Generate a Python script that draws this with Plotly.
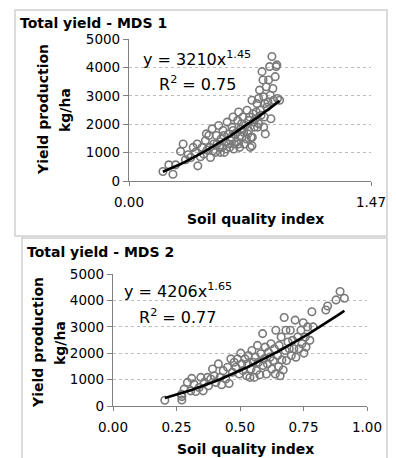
import numpy as np
import plotly.graph_objects as go

# ---------------- data ----------------
sqi_mds1 = [0.206,0.242,0.267,0.283,0.313,0.343,0.359,0.390,0.414,0.418,0.434,0.444,0.464,0.474,0.485,
            0.495,0.505,0.515,0.525,0.531,0.545,0.551,0.559,0.571,0.579,0.588,0.596,0.604,0.612,0.616,
            0.626,0.632,0.636,0.646,0.652,0.660,0.666,0.672,0.680,0.686,0.692,0.701,0.707,0.717,0.721,
            0.727,0.737,0.741,0.747,0.753,0.761,0.767,0.777,0.781,0.787,0.793,0.797,0.808,0.814,0.818,
            0.822,0.828,0.834,0.838,0.848,0.854,0.858,0.862,0.868,0.874,0.878,0.888,0.894,0.898,0.902,
            0.915,0.329,0.375,0.404,0.454,0.470,0.491,0.511,0.535,0.555,0.565,0.575,0.591,0.606,0.620,
            0.632,0.640,0.656,0.666,0.676,0.684,0.696,0.713,0.727,0.733,0.749,0.757,0.773,0.787,0.802,
            0.818,0.826,0.844,0.747]
yield_mds1 = [332,569,237,569,1043,747,924,1185,1304,533,853,1185,1422,1090,1600,
              830,1837,1304,1007,1600,1955,1185,1481,1778,1007,1363,2074,1659,1185,1422,
              1896,2252,1126,1659,1363,2133,2430,1185,1837,1541,2252,1304,1955,2489,1659,
              2133,1185,1541,2844,2370,1896,2192,2726,1896,2903,3200,2489,3851,3555,2963,
              2252,1659,3318,2607,3555,4029,3022,2192,4384,3259,2844,3674,4029,4088,2903,
              2844,1304,830,1007,948,1659,1185,1066,1304,1007,1185,1600,1126,1304,1541,
              1778,1304,1718,1304,1600,2015,1718,1481,1778,2252,1541,2074,2430,2015,2311,
              1896,2726,2785,1244]

sqi_mds2 = [0.204,0.271,0.271,0.270,0.280,0.310,0.319,0.326,0.339,0.355,0.359,0.372,0.385,0.398,0.415,
            0.421,0.428,0.434,0.444,0.451,0.457,0.464,0.470,0.477,0.484,0.490,0.497,0.503,0.507,0.512,
            0.520,0.526,0.530,0.533,0.539,0.543,0.547,0.552,0.556,0.560,0.565,0.569,0.573,0.578,0.582,
            0.589,0.591,0.595,0.599,0.604,0.608,0.612,0.618,0.622,0.625,0.631,0.635,0.639,0.641,0.648,
            0.652,0.654,0.658,0.662,0.665,0.670,0.674,0.678,0.681,0.683,0.689,0.694,0.698,0.702,0.707,
            0.712,0.717,0.720,0.727,0.733,0.740,0.744,0.749,0.752,0.757,0.760,0.766,0.775,0.783,0.788,
            0.838,0.845,0.878,0.894,0.911,0.293,0.306,0.346,0.376,0.405,0.392]
yield_mds2 = [217,357,230,446,638,1046,829,548,701,574,893,1084,1020,1148,1594,
              1084,804,1339,1020,1467,855,1786,1276,1658,1467,1786,1212,2003,1594,1339,
              1786,1148,1594,1913,1084,1403,2105,1658,1084,1850,1339,2296,1658,1186,1977,
              2742,1531,1786,2232,1212,1594,2041,1850,2360,1403,1722,2168,1212,2870,1913,
              1492,2296,1148,2615,1747,1365,3355,2105,2870,1722,2423,2168,2870,1913,2487,
              2168,3253,1850,2615,2168,2870,2360,3151,2003,2615,2232,2997,2487,3571,2997,
              3635,3788,4018,4337,4082,893,574,1084,765,893,1403]

# fitted power trendlines shown on the chart: y = a * x^b
fit1_a, fit1_b = 3210, 1.45
fit2_a, fit2_b = 4206, 1.65
fit1_range = [0.206, 0.915]
fit2_range = [0.204, 0.911]

y_ticks = [0, 1000, 2000, 3000, 4000, 5000]
x1_ticks = [0, 1.47]
x1_ticktext = ["0.00", "1.47"]
x2_ticks = [0, 0.25, 0.5, 0.75, 1.0]
x2_ticktext = ["0.00", "0.25", "0.50", "0.75", "1.00"]

W, H = 396, 458
OFF = 8  # page body margin
FONT = "DejaVu Sans, Verdana, sans-serif"

def px(x):
    return (x - OFF) / W

def py(y):
    return 1 - (y - OFF) / H

fig = go.Figure()
marker = dict(symbol="circle-open", size=7.5, color="#7a7a7a", line=dict(width=1.6, color="#7a7a7a"))

fig.add_trace(go.Scatter(x=sqi_mds1, y=yield_mds1, mode="markers", marker=marker,
                         xaxis="x", yaxis="y", showlegend=False))
xf1 = np.linspace(fit1_range[0], fit1_range[1], 60)
fig.add_trace(go.Scatter(x=xf1, y=fit1_a * xf1 ** fit1_b, mode="lines",
                         line=dict(color="black", width=2.6), xaxis="x", yaxis="y", showlegend=False))

fig.add_trace(go.Scatter(x=sqi_mds2, y=yield_mds2, mode="markers", marker=marker,
                         xaxis="x2", yaxis="y2", showlegend=False))
xf2 = np.linspace(fit2_range[0], fit2_range[1], 60)
fig.add_trace(go.Scatter(x=xf2, y=fit2_a * xf2 ** fit2_b, mode="lines",
                         line=dict(color="black", width=2.6), xaxis="x2", yaxis="y2", showlegend=False))

tickfont = dict(family=FONT, size=13.5, color="black")
common_y = dict(range=[0, 5000], tickvals=y_ticks, showgrid=True, gridcolor="#bcbcbc",
                griddash="dot", gridwidth=1, showline=True, linecolor="#808080", linewidth=1.2,
                ticks="outside", ticklen=5, tickcolor="#808080", tickfont=tickfont,
                zeroline=False, fixedrange=True, automargin=False)
common_x = dict(showgrid=False, showline=True, linecolor="#808080", linewidth=1.2,
                ticks="outside", ticklen=4, tickcolor="#808080", tickfont=tickfont,
                zeroline=False, fixedrange=True, automargin=False)

fig.update_layout(
    width=W, height=H, margin=dict(l=0, r=0, t=0, b=0),
    paper_bgcolor="white", plot_bgcolor="white",
    font=dict(family=FONT, color="black"),
    xaxis=dict(domain=[px(129), px(371)], range=[0, 1.47], tickvals=x1_ticks, ticktext=x1_ticktext,
               anchor="y", ticklabelstandoff=5, **common_x),
    yaxis=dict(domain=[py(181), py(39)], anchor="x", **common_y),
    xaxis2=dict(domain=[px(113), px(367)], range=[0, 1.0], tickvals=x2_ticks, ticktext=x2_ticktext,
                anchor="y2", ticklabelstandoff=5, **common_x),
    yaxis2=dict(domain=[py(406), py(274)], anchor="x2", **common_y),
)

# panel borders
fig.add_shape(type="rect", xref="paper", yref="paper", x0=px(15), x1=px(387), y0=py(236), y1=py(10),
              line=dict(color="#cfcfcf", width=1.5))
fig.add_shape(type="rect", xref="paper", yref="paper", x0=px(22), x1=px(387), y0=py(480), y1=py(238),
              line=dict(color="#cfcfcf", width=1.5))

def ann(text, x, y, size, bold=False, angle=0, xanchor="left"):
    t = f"<b>{text}</b>" if bold else text
    fig.add_annotation(text=t, x=px(x), y=py(y), xref="paper", yref="paper", showarrow=False,
                       xanchor=xanchor, yanchor="middle", textangle=angle,
                       font=dict(family=FONT, size=size, color="black"))

# titles
ann("Total yield - MDS 1", 18, 23.5, 14, bold=True)
ann("Total yield - MDS 2", 25, 252, 14, bold=True)
# x axis titles
ann("Soil quality index", 255, 219, 14, bold=True, xanchor="center")
ann("Soil quality index", 245, 449, 14, bold=True, xanchor="center")
# y axis titles (two lines)
ann("Yield production", 43, 110, 14, bold=True, angle=-90, xanchor="center")
ann("kg/ha", 65, 110, 14, bold=True, angle=-90, xanchor="center")
ann("Yield production", 38, 343, 14, bold=True, angle=-90, xanchor="center")
ann("kg/ha", 60, 343, 14, bold=True, angle=-90, xanchor="center")
# equations
ann(f"y = {fit1_a}x<sup>{fit1_b:.2f}</sup>", 141, 59, 16)
ann("R<sup>2</sup> = 0.75", 157, 83, 16)
ann(f"y = {fit2_a}x<sup>{fit2_b:.2f}</sup>", 122, 290, 16)
ann("R<sup>2</sup> = 0.77", 137, 316, 16)

fig.write_html("out.html")
